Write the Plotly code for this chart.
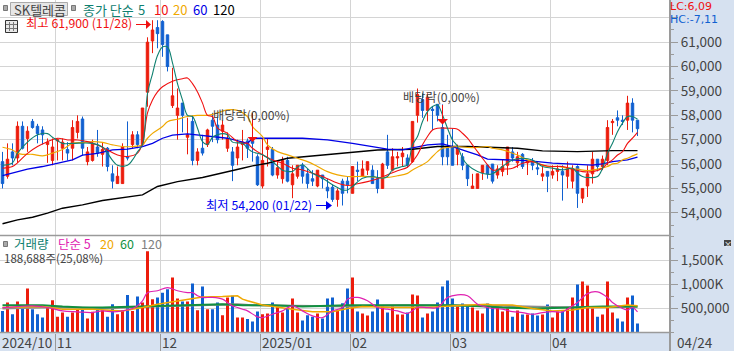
import plotly.graph_objects as go

opens = [56100,55500,56500,56250,57550,57050,57750,57550,57400,56800,
 56150,56950,56650,56600,56650,57300,57850,56100,56150,56700,
 56400,56650,55600,55200,55200,56300,56800,57200,56800,58950,
 61050,61600,61850,61300,58400,58000,58500,57100,57750,56150,
 56650,56800,57800,57600,57350,56650,56500,56250,56800,56950,
 56950,56300,55100,56600,56600,55550,55400,56150,55150,55500,
 55950,55600,55400,55100,55550,55050,55050,54550,55300,55300,
 54800,55750,55500,55750,55750,55400,55000,56500,55750,56250,
 56300,56250,56100,58000,58650,58200,58250,58450,57500,56650,
 56700,56400,56300,55950,55000,55000,55650,55950,56000,55550,
 55700,55950,56500,56050,56400,56050,56100,55850,55500,55700,
 55550,55700,55700,55500,55300,55900,54600,55100,55600,56200,
 55900,56150,57700,57900,57800,57800,58500,57800]
closes = [55200,56200,56250,57550,56650,57350,57500,57250,57200,56900,
 56700,57000,56900,56450,57500,57750,56650,56500,56850,56450,
 56600,55900,55300,55500,56700,56250,57200,56800,58300,61000,
 61500,61350,60900,60000,58800,58300,58000,57200,56150,56500,
 56450,57400,57550,57000,57600,57050,55950,56700,56900,56650,
 56850,55150,56150,56700,55550,55850,56150,55300,55600,55950,
 55500,55200,55300,55750,55400,54900,54550,54900,54800,55150,
 55900,55700,55800,56100,55200,55000,56000,55950,56300,56300,
 56450,55950,57750,58850,58200,58750,58200,58000,56300,56300,
 55950,56650,55950,55400,55100,55600,55950,55600,55300,55800,
 55900,56700,56250,56300,55900,56150,55950,55800,55600,55500,
 55700,55800,55550,55800,55800,54800,55000,55600,56200,55900,
 56200,57500,57750,57800,57750,58500,57800,57450]
highs = [56500,56850,56850,57750,57750,57550,57850,57650,57550,57050,
 57050,57050,57050,56900,57800,58000,57950,56700,57000,57400,
 56900,56700,55950,55900,56850,57750,57350,57350,58300,61200,
 61900,61900,61900,61300,59950,59100,58500,57900,58000,56650,
 57200,57450,58100,57950,57800,57300,56700,57000,57400,57050,
 57050,56400,57050,57050,56700,56150,56300,56300,55950,55950,
 56050,55800,55750,55750,55550,55400,55150,55000,55400,55500,
 55900,56100,56150,56100,55950,55750,56050,57200,56650,56500,
 56700,56400,57750,59100,58900,58900,58350,58450,58450,57200,
 57450,56800,56450,55950,55600,55600,55950,56000,56000,55950,
 56200,56700,56700,56500,56450,56150,56250,56100,55950,55700,
 55950,55950,55950,56100,55950,55950,55000,55950,56500,56200,
 56350,57800,57850,58200,58000,58800,58700,57800]
lows = [55000,55400,55950,56050,56600,56500,57450,56850,56800,56050,
 55950,56150,56150,56150,56150,57050,56350,55950,56100,56300,
 55900,55700,55000,55200,55200,56150,56650,56650,56750,58350,
 60550,60750,60400,59800,58300,57000,57300,56400,55950,55950,
 56350,56700,56900,56850,57000,56500,55300,55950,56150,56250,
 56100,55100,55000,55900,55500,55400,55200,55250,54600,55400,
 55200,55000,55100,55050,55000,54600,54450,54250,54300,54800,
 54800,55300,55500,55550,55200,54800,55000,55800,55700,55900,
 55900,55850,56050,57700,57900,57750,57400,57750,55950,55950,
 55950,55950,55750,55100,55000,55000,55350,55400,55200,55400,
 55500,55550,56100,55850,55800,55550,55750,55550,55300,54850,
 55400,55300,54500,55000,55000,54200,54400,54650,55200,55700,
 55750,55950,57200,57550,57600,57400,57300,57150]
volumes = [450,625,380,645,520,915,485,380,310,520,
 670,330,415,330,415,485,485,290,430,520,
 465,330,590,380,470,780,450,750,625,1690,
 695,730,830,900,1145,710,645,645,1020,465,
 960,485,485,625,360,730,765,310,310,280,
 230,435,380,395,625,540,415,500,710,415,
 250,360,330,395,290,710,730,470,610,915,
 1145,435,395,355,435,685,540,415,540,375,
 375,415,790,770,310,395,435,625,960,1085,
 710,540,605,540,520,460,395,605,540,540,
 435,500,330,460,375,375,395,355,375,585,
 310,435,435,520,730,1000,1060,980,500,330,
 375,1060,415,290,230,730,770,189]

ma5_i = [0,2,3,5,7,9,10,12,14,18,20,21,22,23,25,26,27,28,29,30,31,32,33,34,35,36,37,38,39,40,41,42,43,44,45,46,48,
 49,50,52,54,56,57,58,59,60,62,64,66,68,69,70,72,74,76,77,78,80,81,82,83,84,85,86,87,88,89,90,91,92,93,95,97,
 98,100,102,104,106,108,110,112,114,115,116,117,119,120,121,122,123,124,125,126,127]
ma5_v = [55950,56050,56450,56900,57200,57250,57100,56850,56850,56850,56700,56450,56150,55950,55950,56170,56500,56800,58900,59700,60450,60800,60800,60150,59300,58630,58000,57950,57470,56920,56800,57100,57200,57250,57200,56900,56850,
 56650,56500,56380,56100,55750,55700,55700,55870,55970,55620,55420,55150,54940,54940,55080,55420,55490,55420,55490,55760,55900,55970,56790,57130,57745,58150,58360,58425,58015,57470,56990,56720,56240,55970,55700,55580,
 55600,55900,56170,56240,56170,55900,55830,55760,55830,55625,55490,55450,55490,55830,56440,56850,57330,57680,57950,57950,57840]
ma10_i = [0,2,3,5,7,9,11,13,15,17,19,21,23,25,27,28,29,30,31,32,34,36,37,38,39,40,41,42,43,45,47,48,
 49,50,52,54,56,58,60,62,64,65,67,69,71,73,75,77,79,81,82,83,84,85,86,87,89,91,92,93,94,95,96,97,
 98,100,102,104,106,108,110,112,114,116,118,120,121,122,123,124,125,126,127]
ma10_v = [55830,55900,56050,56440,56720,56920,57060,56990,56990,56920,56785,56580,56375,56310,56450,56850,58100,58630,58960,59170,59400,59500,59530,59300,58960,58500,58000,57950,57470,57260,56920,56850,
 56850,56650,56380,56170,56035,55830,55760,55620,55490,55400,55220,55120,55190,55280,55400,55560,55730,55870,56100,56380,56790,57130,57400,57470,57470,57430,57265,57060,56790,56510,56240,55970,
 55760,55790,55830,56035,56100,55960,55900,55900,55790,55690,55690,55830,56035,56170,56370,56510,56850,57060,57300]
ma20_i = [0,2,3,4,6,8,10,12,14,16,18,20,22,24,26,28,29,30,32,33,35,37,39,41,43,45,47,49,50,52,53,55,57,59,61,63,65,67,69,71,73,75,77,79,81,82,83,84,85,86,87,88,89,91,93,95,97,
 98,100,103,105,107,109,111,113,115,117,119,121,122,123,124,125,126,127]
ma20_v = [56690,56580,56450,56400,56400,56335,56450,56600,56850,56880,56920,56890,56790,56720,56720,56790,57060,57260,57540,57740,57840,57950,58000,58000,58100,58220,58200,57950,57540,57130,56790,56510,56380,56240,56100,55900,55690,55560,55490,55490,55490,55450,55450,55520,55620,55760,55870,55970,56100,56310,56510,56650,56680,56720,56680,56680,56720,
 56650,56580,56370,56170,56035,55900,55900,55830,55790,55730,55790,55900,56010,56035,56170,56240,56335,56420]
ma60_i = [0,3,5,8,11,14,16,19,22,25,28,30,32,34,37,42,45,49,50,60,65,70,74,77,80,83,85,88,90,93,95,97,100,105,110,115,118,120,122,125,127]
ma60_v = [55530,55690,55790,55900,56035,56170,56370,56440,56580,56610,56720,56850,57060,57190,57235,57130,57060,56850,57060,57060,56990,56850,56720,56610,56580,56720,56790,56830,56720,56510,56380,56200,56170,56140,56035,56000,55960,56010,56100,56170,56280]
ma120_i = [0,3,6,9,12,16,20,25,28,31,35,40,44,48,50,53,57,62,68,75,82,87,93,98,103,108,115,122,127]
ma120_v = [53550,53710,53820,53985,54190,54325,54505,54640,54735,55080,55280,55450,55625,55830,55925,56035,56240,56335,56445,56580,56610,56720,56720,56690,56650,56540,56510,56550,56550]

vma5_i = [0,3,6,9,12,15,18,20,22,24,26,27,28,29,31,33,35,37,38,39,40,42,44,45,46,47,48,49,51,52,54,56,58,60,62,64,66,68,69,71,73,75,77,79,81,83,85,87,89,91,93,95,97,98,100,102,104,106,108,110,112,114,115,117,119,121,122,124,125,126,127]
vma5_v = [520,540,555,520,450,430,415,450,430,450,500,555,660,830,870,935,870,830,830,765,730,730,695,625,555,520,485,450,325,310,380,450,555,450,345,310,450,520,695,730,660,520,485,450,395,520,520,520,730,785,765,590,520,500,485,435,415,380,415,435,430,555,625,810,845,730,625,500,470,520,430]
vma20_i = [0,8,12,18,24,28,31,35,40,44,47,48,49,52,54,58,62,66,69,72,78,85,92,97,98,102,106,110,114,117,121,125,127]
vma20_v = [520,540,485,485,450,520,590,660,740,750,765,695,660,575,540,485,430,430,500,540,520,520,570,590,575,575,500,450,470,520,520,575,555]
vma60_i = [0,8,12,16,20,28,34,44,48,54,60,69,80,90,97,100,107,112,120,127]
vma60_v = [570,570,540,520,520,540,570,590,570,570,540,570,570,570,540,520,500,520,540,540]
vma120_i = [0,8,15,20,30,47,50,60,70,80,90,97,100,107,115,127]
vma120_v = [500,520,520,500,540,590,570,555,540,570,570,570,555,535,520,535]

month_pos = [10.5,31.5,51.5,69.5,89.5,109.5]
month_labels = ["11","12","2025/01","02","03","04"]
price_ticks = [54000,55000,56000,57000,58000,59000,60000,61000,62000]
price_labels = ["54,000","55,000","56,000","57,000","58,000","59,000","60,000","61,000",""]
vol_ticks = [500,1000,1500]
vol_labels = ["500,000","1,000K","1,500K"]

RED = "#ec1c0c"; BLUE = "#1060d0"; GRID = "#d4d4d4"; AX = "#9a9a9a"
PANEL = "#d6e1f0"; TXT = "#444444"
FONT = "Liberation Sans Narrow, Noto Sans CJK KR"
W, H = 734, 351

x = list(range(len(opens)))
fig = go.Figure()
fig.add_trace(go.Bar(x=x, y=volumes, xaxis="x2", yaxis="y2", width=0.6,
    marker=dict(color=[RED if c >= o else BLUE for o, c in zip(opens, closes)], line_width=0)))
fig.add_trace(go.Candlestick(x=x, open=opens, high=highs, low=lows, close=closes, whiskerwidth=0,
    increasing=dict(line=dict(color=RED, width=1), fillcolor=RED),
    decreasing=dict(line=dict(color=BLUE, width=1), fillcolor=BLUE)))
for xs, ys, col, wd, shp in [(ma120_i, ma120_v, "#000000", 1.4, "linear"), (ma60_i, ma60_v, "#0000e6", 1.3, "linear"),
                             (ma20_i, ma20_v, "#f0a800", 1.2, "spline"), (ma10_i, ma10_v, "#f01010", 1.1, "spline"),
                             (ma5_i, ma5_v, "#0f8070", 1.1, "spline")]:
    fig.add_trace(go.Scatter(x=xs, y=ys, mode="lines", line=dict(color=col, width=wd, shape=shp)))
for xs, ys, col, wd, shp in [(vma120_i, vma120_v, "#8c8c8c", 2, "linear"), (vma60_i, vma60_v, "#109040", 2, "linear"),
                             (vma20_i, vma20_v, "#f0a800", 1.5, "linear"), (vma5_i, vma5_v, "#e020b0", 1.2, "spline")]:
    fig.add_trace(go.Scatter(x=xs, y=ys, xaxis="x2", yaxis="y2", mode="lines", line=dict(color=col, width=wd, shape=shp)))

def fx(p): return p / W
def fy(p): return 1 - p / H

ann = []
def label(px, py, text, color=TXT, size=13, anchor="left", family=FONT):
    ann.append(dict(xref="paper", yref="paper", x=fx(px), y=fy(py), text=text, showarrow=False,
                    xanchor=anchor, yanchor="middle", font=dict(family=family, size=size, color=color),
                    borderpad=0, borderwidth=0))

shapes = []
def rect(x0, y0, x1, y1, fill, line=None, lw=1):
    shapes.append(dict(type="rect", xref="paper", yref="paper", x0=fx(x0), x1=fx(x1), y0=fy(y0), y1=fy(y1),
                       fillcolor=fill, line=dict(color=line or fill, width=lw if line else 0)))
def hline(x0, x1, y, col, lw=1):
    shapes.append(dict(type="line", xref="paper", yref="paper", x0=fx(x0), x1=fx(x1), y0=fy(y), y1=fy(y), line=dict(color=col, width=lw)))
def vline(x0, y0, y1, col, lw=1):
    shapes.append(dict(type="line", xref="paper", yref="paper", x0=fx(x0), x1=fx(x0), y0=fy(y0), y1=fy(y1), line=dict(color=col, width=lw)))
def tri(pts, col):
    path = "M " + " L ".join(f"{fx(a)},{fy(b)}" for a, b in pts) + " Z"
    shapes.append(dict(type="path", xref="paper", yref="paper", path=path, fillcolor=col, line=dict(color=col, width=0)))

# header controls
rect(3.5, 5.5, 7.5, 10.5, "#aaaaaa", "#777777")
rect(10.5, 2.5, 67.5, 15.5, "#e6e6e6", "#aaaaaa")
label(14, 9, "SK텔레콤", "#444444", 13)
rect(71.5, 5.5, 75.5, 10.5, "#aaaaaa", "#777777")
for px, t, c in [(83, "종가 단순", "#0f8070"), (138, "5", "#0f8070"), (154, "10", "#f01010"),
                 (173, "20", "#f0a800"), (193, "60", "#0000e6"), (213, "120", "#000000")]:
    label(px, 9, t, c, 13)
# table icon
rect(5.5, 20.5, 17.5, 32.5, "#e8e8e8", "#333333")
for v in (9.5, 13.5):
    vline(v, 22, 31, "#777777")
for h in (24.5, 28.5):
    hline(6, 17, h, "#777777")
label(26, 23, "최고 61,900 (11/28)", "#f01010", 12.3)
hline(136, 146, 24.5, "#f01010", 1)
tri([(146, 20), (146, 29), (151, 24.5)], "#f01010")
label(206, 205, "최저 54,200 (01/22)", "#0000f0", 12.3)
hline(316, 327, 205.5, "#0000f0", 1)
tri([(326, 201), (326, 210), (332, 205.5)], "#0000f0")
label(213, 115, "배당락(0,00%)", "#444444", 12.2)
label(403, 97, "배당락(0,00%)", "#444444", 12.2)
vline(252.5, 113, 138, "#f01010")
tri([(247.5, 137), (257.5, 137), (252.5, 142)], "#f01010")
vline(442.5, 105, 120, "#f01010")
tri([(437, 119), (448, 119), (442.5, 124.5)], "#f01010")
label(670, 6.7, "LC:6,09", "#f01010", 11, family="DejaVu Sans")
label(670, 19.7, "HC:-7,11", "#1060d0", 11, family="DejaVu Sans")
# volume header
rect(3.5, 241.5, 7.5, 246.5, "#aaaaaa", "#777777")
for px, t, c in [(14, "거래량", "#0f8070"), (58, "단순 5", "#e020b0"), (100, "20", "#f0a800"),
                 (120, "60", "#109040"), (141, "120", "#808080")]:
    label(px, 243.7, t, c, 12.5)
label(4, 258.3, "188,688주(25,08%)", "#444444", 11.5)
# corner icon
rect(724, 240, 731, 246, "#444444")
label(727.5, 243, "×", "#ffffff", 8, "center")
# date labels
label(2, 342, "2024/10", TXT, 13.5)
for pos, t in zip(month_pos, month_labels):
    label(2.5 + 5 * pos + 2, 342, t, TXT, 13.5)
label(677, 342, "04/24", TXT, 13.5)
# frames
hline(0, 670, 235.5, AX, 1.5)
hline(0, 670, 332.5, AX, 1.5)
vline(670, 0, 351, AX, 2)

tick = dict(family=FONT, size=13.5, color=TXT)
fig.update_layout(
    width=W, height=H, autosize=False, margin=dict(l=0, r=0, t=0, b=0),
    paper_bgcolor=PANEL, plot_bgcolor="#ffffff", showlegend=False, bargap=0.4,
    annotations=ann, shapes=shapes,
    xaxis=dict(domain=[0, 670 / W], range=[-0.5, 133.5], anchor="y", rangeslider=dict(visible=False),
               tickvals=month_pos, ticktext=[""] * 6, showgrid=True, gridcolor=GRID, gridwidth=1, ticks="", zeroline=False, showline=False),
    yaxis=dict(domain=[1 - 235.5 / H, 1], range=[53070, 62730], side="right", tickvals=price_ticks, ticktext=price_labels,
               showgrid=True, gridcolor=GRID, gridwidth=1, ticks="outside", ticklen=7, tickcolor=AX, tickfont=tick,
               minor=dict(ticks="outside", ticklen=3, tickcolor=AX, dtick=500, tick0=0, showgrid=False), zeroline=False, showline=False),
    xaxis2=dict(domain=[0, 670 / W], range=[-0.5, 133.5], anchor="y2", tickvals=month_pos, ticktext=[""] * 6,
                showgrid=True, gridcolor=GRID, gridwidth=1, ticks="outside", ticklen=19, tickcolor=AX, tickwidth=1, zeroline=False, showline=False),
    yaxis2=dict(domain=[1 - 332.5 / H, 1 - 235.5 / H], range=[0, 2020], side="right", tickvals=vol_ticks, ticktext=vol_labels,
                showgrid=True, gridcolor=GRID, gridwidth=1, ticks="outside", ticklen=7, tickcolor=AX, tickfont=tick,
                minor=dict(ticks="outside", ticklen=3, tickcolor=AX, dtick=250, tick0=0, showgrid=False), zeroline=False, showline=False),
)
fig.write_html("out.html", config=dict(displayModeBar=False),
               post_script="document.body.style.margin='0';document.body.style.overflow='hidden';")
